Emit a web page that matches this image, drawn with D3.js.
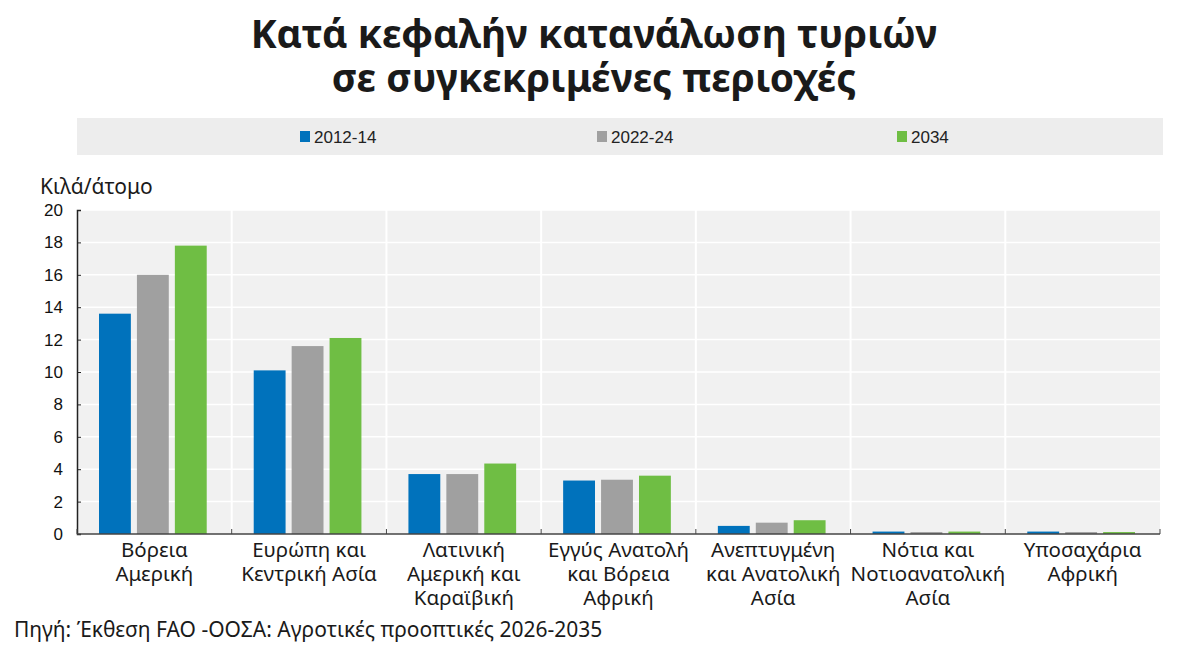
<!DOCTYPE html>
<html lang="el">
<head>
<meta charset="UTF-8">
<title>Κατανάλωση τυριών</title>
<script src="https://cdn.jsdelivr.net/npm/d3@7"></script>
<style>
  body { margin: 0; background: #fff; }
  text { font-family: "Noto Sans", "Open Sans", sans-serif; }
  .tick text, .leg text { font-family: "Liberation Sans Narrow", "Liberation Sans", sans-serif; }
</style>
</head>
<body>
<svg id="chart" width="1178" height="666"></svg>
<script>
// data
const regions = [
  ["Βόρεια", "Αμερική"],
  ["Ευρώπη και", "Κεντρική Ασία"],
  ["Λατινική", "Αμερική και", "Καραϊβική"],
  ["Εγγύς Ανατολή", "και Βόρεια", "Αφρική"],
  ["Ανεπτυγμένη", "και Ανατολική", "Ασία"],
  ["Νότια και", "Νοτιοανατολική", "Ασία"],
  ["Υποσαχάρια", "Αφρική"]
];
const periods = ["2012-14", "2022-24", "2034"];
const v2012 = [13.6, 10.1, 3.7, 3.3, 0.5, 0.15, 0.15];
const v2022 = [16.0, 11.6, 3.7, 3.35, 0.7, 0.12, 0.12];
const v2034 = [17.8, 12.1, 4.35, 3.6, 0.85, 0.15, 0.12];
const colors = ["#0072bc", "#a0a0a0", "#6fbe44"];
const yTicks = [0, 2, 4, 6, 8, 10, 12, 14, 16, 18, 20];

const series = [v2012, v2022, v2034];
const svg = d3.select("#chart");
const L = 77, R = 1160, T = 210, B = 534;

// title
svg.append("text").attr("x", 594).attr("y", 48).attr("text-anchor", "middle")
  .attr("font-size", 39).attr("font-weight", "bold").attr("fill", "#1a1a1a")
  .text("Κατά κεφαλήν κατανάλωση τυριών");
svg.append("text").attr("x", 594).attr("y", 92).attr("text-anchor", "middle")
  .attr("font-size", 39).attr("font-weight", "bold").attr("fill", "#1a1a1a")
  .text("σε συγκεκριμένες περιοχές");

// legend
svg.append("rect").attr("x", 77).attr("y", 118).attr("width", 1086).attr("height", 37).attr("fill", "#ededed");
const legX = [300, 597, 897];
const leg = svg.append("g").attr("class", "leg");
periods.forEach((p, i) => {
  leg.append("rect").attr("x", legX[i]).attr("y", 131).attr("width", 10).attr("height", 11).attr("fill", colors[i]);
  leg.append("text").attr("x", legX[i] + 14).attr("y", 143).attr("font-size", 17).attr("fill", "#222").text(p);
});

// scales
const x = d3.scaleBand().domain(d3.range(regions.length)).range([L, R]);
const xi = d3.scaleBand().domain(d3.range(3)).range([22, x.bandwidth() - 25]).paddingInner(0.16);
const y = d3.scaleLinear().domain([0, 20]).range([B, T]);

// plot background
svg.append("rect").attr("x", L).attr("y", T).attr("width", R - L).attr("height", B - T).attr("fill", "#f1f1f1");
svg.append("g").selectAll("line").data(yTicks.slice(1)).join("line")
  .attr("x1", L).attr("x2", R).attr("y1", d => y(d)).attr("y2", d => y(d))
  .attr("stroke", "#fff").attr("stroke-width", 1.5);
svg.append("g").selectAll("line").data(d3.range(1, regions.length)).join("line")
  .attr("x1", d => x(d)).attr("x2", d => x(d)).attr("y1", T).attr("y2", B)
  .attr("stroke", "#fff").attr("stroke-width", 2);

// bars
series.forEach((s, si) => {
  svg.append("g").selectAll("rect").data(s).join("rect")
    .attr("x", (d, i) => x(i) + xi(si)).attr("width", xi.bandwidth())
    .attr("y", d => y(d)).attr("height", d => B - y(d)).attr("fill", colors[si]);
});

// y axis
const ya = svg.append("g").attr("transform", `translate(${L},0)`)
  .call(d3.axisLeft(y).tickValues(yTicks).tickSize(-4).tickPadding(22));
ya.select(".domain").attr("stroke", "#222").attr("stroke-width", 1.5);
ya.selectAll(".tick text").attr("font-size", 17).attr("fill", "#111").attr("text-anchor", "end").attr("dx", 8);
ya.selectAll(".tick line").attr("stroke", "#222");

// x axis
const xa = svg.append("g").attr("transform", `translate(0,${B})`);
xa.append("line").attr("x1", L).attr("x2", R).attr("stroke", "#444").attr("stroke-width", 1.5);
xa.selectAll(".tk").data(d3.range(regions.length + 1)).join("line")
  .attr("x1", d => L + d * x.step()).attr("x2", d => L + d * x.step())
  .attr("y1", -5).attr("y2", 0).attr("stroke", "#444");
regions.forEach((lines, i) => {
  const t = svg.append("text").attr("text-anchor", "middle").attr("font-size", 20.5).attr("fill", "#1a1a1a");
  lines.forEach((ln, k) => t.append("tspan").attr("x", x(i) + x.bandwidth() / 2).attr("y", 557 + k * 24).text(ln));
});

// axis title & source
svg.append("text").attr("x", 40).attr("y", 194).attr("font-size", 21).attr("fill", "#1a1a1a").text("Κιλά/άτομο");
svg.append("text").attr("x", 14).attr("y", 637).attr("font-size", 21).attr("fill", "#1a1a1a")
  .text("Πηγή: Έκθεση FAO -ΟΟΣΑ: Αγροτικές προοπτικές 2026-2035");
</script>
</body>
</html>
